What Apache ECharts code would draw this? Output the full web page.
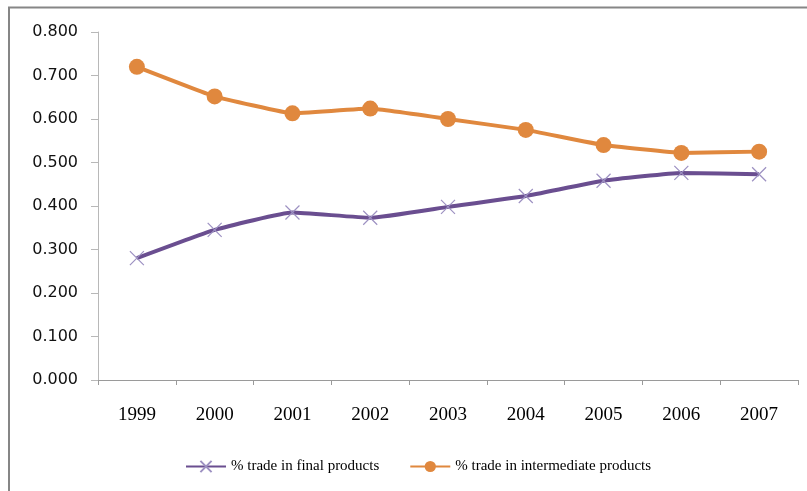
<!DOCTYPE html>
<html><head><meta charset="utf-8">
<script src="https://cdn.jsdelivr.net/npm/echarts@6/dist/echarts.min.js"></script>
<style>html,body{margin:0;padding:0;background:#fff}#c{width:807px;height:491px}</style>
</head><body><div id="c"></div>
<script>
var years = ['1999','2000','2001','2002','2003','2004','2005','2006','2007'];
var finalProducts = [0.280, 0.345, 0.385, 0.373, 0.398, 0.423, 0.458, 0.476, 0.473];
var intermediateProducts = [0.720, 0.652, 0.613, 0.624, 0.600, 0.575, 0.540, 0.522, 0.525];
var yTicks = [0, 0.1, 0.2, 0.3, 0.4, 0.5, 0.6, 0.7, 0.8];

var chart = echarts.init(document.getElementById('c'), null, {renderer: 'canvas'});
chart.setOption({
  animation: false,
  backgroundColor: '#fff',
  graphic: [{
    type: 'rect', silent: true,
    shape: {x: 9, y: 7.5, width: 830, height: 520},
    style: {fill: 'none', stroke: '#868686', lineWidth: 2}
  }],
  grid: {left: 98, right: 9, top: 32, bottom: 111, containLabel: false},
  legend: {
    top: 454, left: 180,
    itemWidth: 40, itemHeight: 14, itemGap: 30,
    textStyle: {fontFamily: 'Liberation Serif', fontSize: 15, color: '#000'},
    data: ['% trade in final products', '% trade in intermediate products']
  },
  xAxis: {
    type: 'category', data: years, boundaryGap: true,
    axisLine: {lineStyle: {color: '#9a9a9a', width: 1}},
    axisTick: {show: true, inside: false, length: 5, lineStyle: {color: '#9a9a9a'}},
    axisLabel: {margin: 26, fontFamily: 'Liberation Serif', fontSize: 19, color: '#000'}
  },
  yAxis: {
    type: 'value', min: 0, max: 0.8, interval: 0.1,
    axisLine: {show: true, lineStyle: {color: '#b8b8b8', width: 1}},
    axisTick: {show: true, length: 7, lineStyle: {color: '#b8b8b8'}},
    splitLine: {show: false},
    axisLabel: {margin: 20, fontFamily: 'DejaVu Sans', fontSize: 16, color: '#111',
      formatter: function (v) { return v.toFixed(3); }}
  },
  series: [{
    name: '% trade in final products', type: 'line', data: finalProducts,
    smooth: 0.12,
    lineStyle: {color: '#6a4e90', width: 4},
    symbol: 'path://M0,0L10,10M10,0L0,10', symbolSize: 14,
    itemStyle: {color: 'rgba(0,0,0,0)', borderColor: '#9d91c2', borderWidth: 1.2},
    z: 3
  }, {
    name: '% trade in intermediate products', type: 'line', data: intermediateProducts,
    smooth: 0.08,
    lineStyle: {color: '#e0883e', width: 4},
    symbol: 'circle', symbolSize: 16,
    itemStyle: {color: '#e0883e', borderWidth: 0},
    z: 2
  }]
});
</script></body></html>
